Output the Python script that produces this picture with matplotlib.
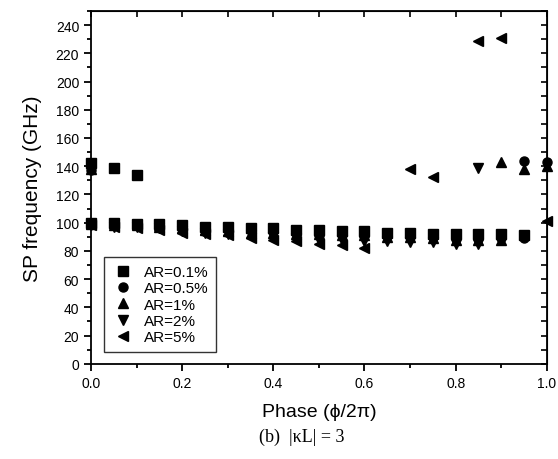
import matplotlib
matplotlib.use("Agg")
import matplotlib.pyplot as plt
import numpy as np
from matplotlib.ticker import MultipleLocator

nan = np.nan
phase = np.round(np.arange(0, 1.0001, 0.05), 2)

# lower branch (about 100 GHz) and upper branches, NaN where no point
ar01_low = [100, 100, 99, 99, 98, 97, 97, 96, 96, 95, 95, 94, 94, 93, 93, 92, 92, 92, 92, 91, nan]
ar01_up = [142, 139, 134] + [nan] * 18

ar05_low = [100, 100, 99, 99, 97, 96, 96, 95, 95, 94, 94, 93, 93, 92, 91, 90, 90, 89, 89, 89, nan]
ar05_up = [137] + [nan] * 18 + [144, 143]

ar1_low = [99, 98, 98, 97, 96, 95, 94, 93, 93, 92, 92, 91, 91, 90, 90, 89, 88, 88, 88, nan, nan]
ar1_up = [138] + [nan] * 17 + [143, 138, 140]

ar2_low = [98, 97, 97, 96, 94, 93, 92, 91, 90, 89, 88, 88, 87, 87, 86, 86, 85, 85, nan, nan, nan]
ar2_up = [nan] * 17 + [139, nan, nan, nan]

ar5_low = [98, 97, 96, 95, 93, 92, 91, 89, 88, 87, 85, 84, 82, nan, nan, nan, nan, nan, nan, nan, 101]
ar5_up = [nan] * 14 + [138, 132, nan, 229, 231, nan, nan]

labels = ["AR=0.1%", "AR=0.5%", "AR=1%", "AR=2%", "AR=5%"]
markers = ["s", "o", "^", "v", "<"]
series = [(ar01_low, ar01_up), (ar05_low, ar05_up), (ar1_low, ar1_up),
          (ar2_low, ar2_up), (ar5_low, ar5_up)]

plt.rcParams["font.family"] = ["Liberation Sans", "DejaVu Sans"]

fig = plt.figure(figsize=(5.58, 4.6), dpi=100)
ax = fig.add_axes([0.163, 0.207, 0.817, 0.767])

for (low, up), m, lab in zip(series, markers, labels):
    ax.plot(phase, low, m, color="black", ms=6.5, clip_on=False, label=lab)
    ax.plot(phase, up, m, color="black", ms=6.5, clip_on=False)

ax.set_xlim(0, 1.0)
ax.set_ylim(0, 250)
ax.xaxis.set_major_locator(MultipleLocator(0.2))
ax.xaxis.set_minor_locator(MultipleLocator(0.1))
ax.yaxis.set_major_locator(MultipleLocator(20))
ax.yaxis.set_minor_locator(MultipleLocator(10))
ax.set_xticklabels([f"{v:.1f}" for v in ax.get_xticks()])
ax.tick_params(which="both", direction="out", labelsize=10, width=1.3)
ax.tick_params(which="major", length=5)
ax.tick_params(which="minor", length=3)
for s in ax.spines.values():
    s.set_linewidth(1.3)

top = ax.secondary_xaxis("top")
top.xaxis.set_major_locator(MultipleLocator(0.2))
top.xaxis.set_minor_locator(MultipleLocator(0.1))
top.tick_params(which="both", direction="in", labeltop=False, width=1.2, length=4)
right = ax.secondary_yaxis("right")
right.yaxis.set_major_locator(MultipleLocator(20))
right.yaxis.set_minor_locator(MultipleLocator(10))
right.tick_params(which="both", direction="in", labelright=False, width=1.2, length=4)

ax.set_ylabel("SP frequency (GHz)", fontsize=15, labelpad=10)
ax.set_xlabel("Phase (\u03d5/2\u03c0)", fontsize=14, labelpad=10)

leg = ax.legend(loc="lower left", bbox_to_anchor=(0.012, 0.012), frameon=True,
                fancybox=False, edgecolor="black", fontsize=11, handletextpad=0.6,
                labelspacing=0.15, borderpad=0.5, handlelength=1.5)
leg.get_frame().set_linewidth(1.0)

fig.text(0.54, 0.05, "(b)  |\u03baL| = 3", family="Liberation Serif", fontsize=13,
         ha="center", va="center")

fig.savefig("out.png", dpi=100)
